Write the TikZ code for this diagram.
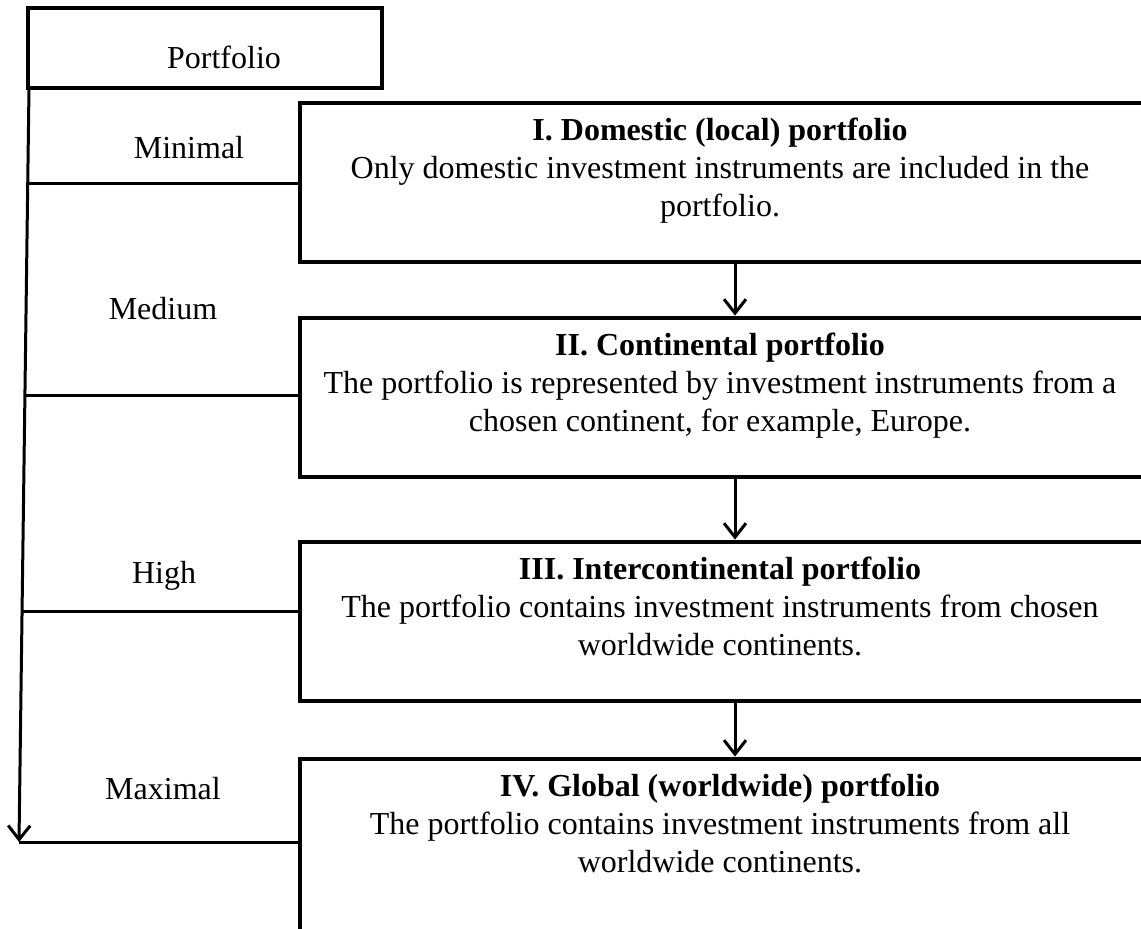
\documentclass[tikz,border=0pt]{standalone}
\usepackage{fontspec}
\setmainfont{Liberation Serif}
\usetikzlibrary{arrows.meta,positioning,calc}

\begin{document}
\begin{tikzpicture}[
  x=0.5pt, y=-0.5pt,
  font=\fontsize{16}{19}\selectfont,
  frame/.style={rectangle, draw, line width=2.4pt, inner sep=0pt},
  level/.style={frame, minimum width=423pt, minimum height=79.5pt},
  desc/.style={align=center, inner sep=0pt, anchor=north},
  degree/.style={anchor=base, inner sep=0pt},
  link/.style={line width=1.5pt},
  arrow/.style={link, -{Straight Barb[length=7pt, width=11pt]}}
]
\useasboundingbox (0,0) rectangle (1141,928);

% Header
\node[frame, minimum width=177pt, minimum height=40pt] (port) at (205,48) {};
\node[degree] (porttxt) at (224,68) {Portfolio};

% Levels of diversification
\node[level] (dom) at (723,182.5) {};
\node[level] (cont) at (723,397.5) {};
\node[level] (inter) at (723,621.5) {};
\node[level, minimum height=120.5pt] (glob) at (723,879.5) {};

\node[desc] (domtxt) at ([xshift=-1.5pt, yshift=-8.5pt]dom.north)
  {\textbf{I. Domestic (local) portfolio}\\Only domestic investment instruments are included in the\\portfolio.};
\node[desc] (conttxt) at ([xshift=-1.5pt, yshift=-8.5pt]cont.north)
  {\textbf{II. Continental portfolio}\\The portfolio is represented by investment instruments from a\\chosen continent, for example, Europe.};
\node[desc] (intertxt) at ([xshift=-1.5pt, yshift=-8.5pt]inter.north)
  {\textbf{III. Intercontinental portfolio}\\The portfolio contains investment instruments from chosen\\worldwide continents.};
\node[desc] (globtxt) at ([xshift=-1.5pt, yshift=-8.5pt]glob.north)
  {\textbf{IV. Global (worldwide) portfolio}\\The portfolio contains investment instruments from all\\worldwide continents.};

% Arrows between levels
\draw[arrow] ([xshift=6pt]dom.south) -- ([xshift=6pt]cont.north);
\draw[arrow] ([xshift=6pt]cont.south) -- ([xshift=6pt]inter.north);
\draw[arrow] ([xshift=6pt]inter.south) -- ([xshift=6pt]glob.north);

% Degree scale
\coordinate (top) at (29,88);
\coordinate (bot) at (19,842);
\draw[arrow] (top) -- (bot);
\path (top) -- (bot) coordinate[pos=0.126] (m1) coordinate[pos=0.408] (m2)
  coordinate[pos=0.694] (m3);
\draw[link] (m1) -- (m1 -| dom.west);
\draw[link] (m2) -- (m2 -| cont.west);
\draw[link] (m3) -- (m3 -| inter.west);
\draw[link] (bot) -- (bot -| glob.west);

\node[degree] (lmin) at (189,158) {Minimal};
\node[degree] (lmed) at (163,319) {Medium};
\node[degree] (lhigh) at (164,583) {High};
\node[degree] (lmax) at (163,799) {Maximal};
\end{tikzpicture}
\end{document}
